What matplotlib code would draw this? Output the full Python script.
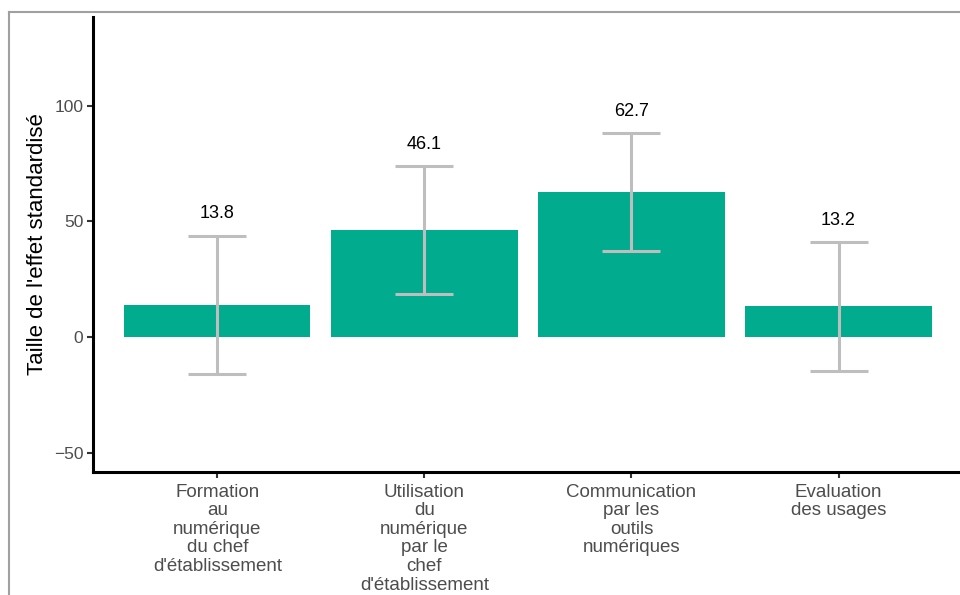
import numpy as np
import matplotlib
matplotlib.use("Agg")
import matplotlib.pyplot as plt
from matplotlib.lines import Line2D

plt.rcParams['font.family'] = ['Liberation Sans', 'DejaVu Sans']

categories = ["Formation\nau\nnumérique\ndu chef\nd'établissement",
              "Utilisation\ndu\nnumérique\npar le\nchef\nd'établissement",
              "Communication\npar les\noutils\nnumériques",
              "Evaluation\ndes usages"]
effects = [13.8, 46.1, 62.7, 13.2]
err_low = [-16.0, 18.6, 37.2, -14.7]
err_high = [43.7, 73.9, 88.2, 41.1]

x = np.arange(1, len(effects) + 1)
eff = np.array(effects)
yerr = [eff - np.array(err_low), np.array(err_high) - eff]

fig = plt.figure(figsize=(9.6, 5.95), dpi=100)
ax = fig.add_axes([0.0969, 0.2067, 0.906, 0.7647])

ax.bar(x, eff, width=0.9, color="#00ab8e", zorder=2)
ax.errorbar(x, eff, yerr=yerr, fmt="none", ecolor="#bebebe",
            elinewidth=2.2, capsize=21, capthick=2.2, zorder=3)
for xi, v, hi in zip(x, effects, err_high):
    ax.text(xi, hi + 9.5, f"{v:.1f}", ha="center", va="center",
            fontsize=13, color="black")

ax.set_xlim(0.4, 4.6)
ax.set_ylim(-58.4, 138.4)
ax.set_yticks([-50, 0, 50, 100])
ax.set_yticklabels(["\u221250", "0", "50", "100"])
ax.set_xticks(x)
ax.set_xticklabels(categories, fontsize=13.5, color="#4d4d4d",
                   linespacing=1.12)
ax.tick_params(axis="y", labelsize=12.5, labelcolor="#4d4d4d",
               color="#333333", length=4, width=1.5, pad=3)
ax.tick_params(axis="x", color="#333333", length=4, width=1.5, pad=4.5)
ax.set_ylabel("Taille de l'effet standardisé", fontsize=16, labelpad=4.5)

for side in ["top", "right"]:
    ax.spines[side].set_visible(False)
for side in ["left", "bottom"]:
    ax.spines[side].set_linewidth(2.2)
    ax.spines[side].set_color("black")

# grey frame of the cropped screenshot
fig.add_artist(Line2D([9 / 960, 9 / 960], [0, 1 - 12 / 595],
                      color="#a0a0a0", lw=1.5))
fig.add_artist(Line2D([9 / 960, 1], [1 - 12 / 595, 1 - 12 / 595],
                      color="#a0a0a0", lw=1.5))

fig.savefig("out.png", dpi=100)
